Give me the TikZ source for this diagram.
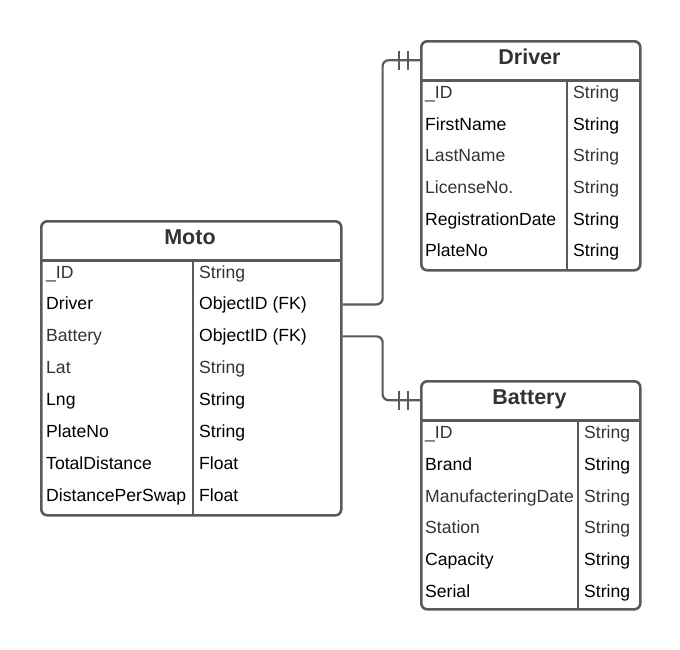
\documentclass[tikz,border=0pt]{standalone}
\usepackage{fontspec}
\setmainfont{Liberation Sans}
\definecolor{linegray}{HTML}{5A5A5A}
\definecolor{softtext}{HTML}{333333}
\tikzset{
  erbox/.style={draw=linegray, line width=2.6pt, rounded corners=6pt, anchor=north west, inner sep=0pt},
  erhead/.style={anchor=north west, inner sep=0pt, minimum height=40},
  ertitle/.style={anchor=base, inner sep=0pt, text=softtext, font=\bfseries\fontsize{21.5}{25}\selectfont},
  erfield/.style={anchor=base west, inner sep=0pt, font=\fontsize{17.6}{21}\selectfont},
  errule/.style={draw=linegray, line width=2.6pt},
  erlink/.style={draw=linegray, line width=2.2pt, rounded corners=6pt},
  erbar/.style={draw=linegray, line width=2.2pt},
}
\begin{document}
\begin{tikzpicture}[x=1pt, y=-1pt]
  \fill[white] (0,0) rectangle (680,649);
  \useasboundingbox (0,0) rectangle (680,649);

  % Moto
  \node[erbox, minimum width=300, minimum height=294] (moto) at (40,220) {};
  \node[erhead, minimum width=300] (motoHead) at (40,220) {};
  \node[ertitle] (motoTitle) at (190,244) {Moto};
  \draw[errule] (motoHead.south west) -- (motoHead.south east);
  \draw[errule] (193,260) -- (193,514);
  \foreach \fname/\ftype/\fc/\tc [count=\i] in {
      \_ID/String/softtext/softtext,
      Driver/ObjectID (FK)/black/black,
      Battery/ObjectID (FK)/softtext/black,
      Lat/String/softtext/softtext,
      Lng/String/black/black,
      PlateNo/String/black/black,
      TotalDistance/Float/black/black,
      DistancePerSwap/Float/black/black} {
    \node[erfield, text=\fc] (motoF\i) at (46,{278+31.95*(\i-1)}) {\fname};
    \node[erfield, text=\tc] (motoT\i) at (199,{278+31.95*(\i-1)}) {\ftype};
  }

  % Driver
  \node[erbox, minimum width=219, minimum height=229] (driver) at (420,40) {};
  \node[erhead, minimum width=219] (drvHead) at (420,40) {};
  \node[ertitle] (drvTitle) at (529.5,64) {Driver};
  \draw[errule] (drvHead.south west) -- (drvHead.south east);
  \draw[errule] (567,80) -- (567,269);
  \foreach \fname/\fc [count=\i] in {
      \_ID/softtext,
      FirstName/black,
      LastName/softtext,
      LicenseNo./softtext,
      RegistrationDate/black,
      PlateNo/black} {
    \node[erfield, text=\fc] (drvF\i) at (425,{98.3+31.7*(\i-1)}) {\fname};
    \node[erfield, text=\fc] (drvT\i) at (573,{98.3+31.7*(\i-1)}) {String};
  }

  % Battery
  \node[erbox, minimum width=219, minimum height=228] (battery) at (420,380) {};
  \node[erhead, minimum width=219] (batHead) at (420,380) {};
  \node[ertitle] (batTitle) at (529.5,404.5) {Battery};
  \draw[errule] (batHead.south west) -- (batHead.south east);
  \draw[errule] (578,420) -- (578,608);
  \foreach \fname/\fc [count=\i] in {
      \_ID/softtext,
      Brand/black,
      ManufacteringDate/softtext,
      Station/softtext,
      Capacity/black,
      Serial/black} {
    \node[erfield, text=\fc] (batF\i) at (425,{438.8+31.7*(\i-1)}) {\fname};
    \node[erfield, text=\fc] (batT\i) at (584,{438.8+31.7*(\i-1)}) {String};
  }

  % links
  \coordinate (motoDrv) at (moto.east |- motoT2.west);
  \coordinate (motoBat) at (moto.east |- motoT3.west);
  \draw[erlink] ([yshift=1pt]motoDrv) -- ++(40,0) |- (drvHead.west);
  \draw[erlink] ([yshift=1pt]motoBat) -- ++(40,0) |- (batHead.west);
  \draw[erbar] ([xshift=-21pt]drvHead.west) ++(0,-9.5) -- ++(0,19);
  \draw[erbar] ([xshift=-12pt]drvHead.west) ++(0,-9.5) -- ++(0,19);
  \draw[erbar] ([xshift=-21pt]batHead.west) ++(0,-9.5) -- ++(0,19);
  \draw[erbar] ([xshift=-12pt]batHead.west) ++(0,-9.5) -- ++(0,19);
\end{tikzpicture}
\end{document}
